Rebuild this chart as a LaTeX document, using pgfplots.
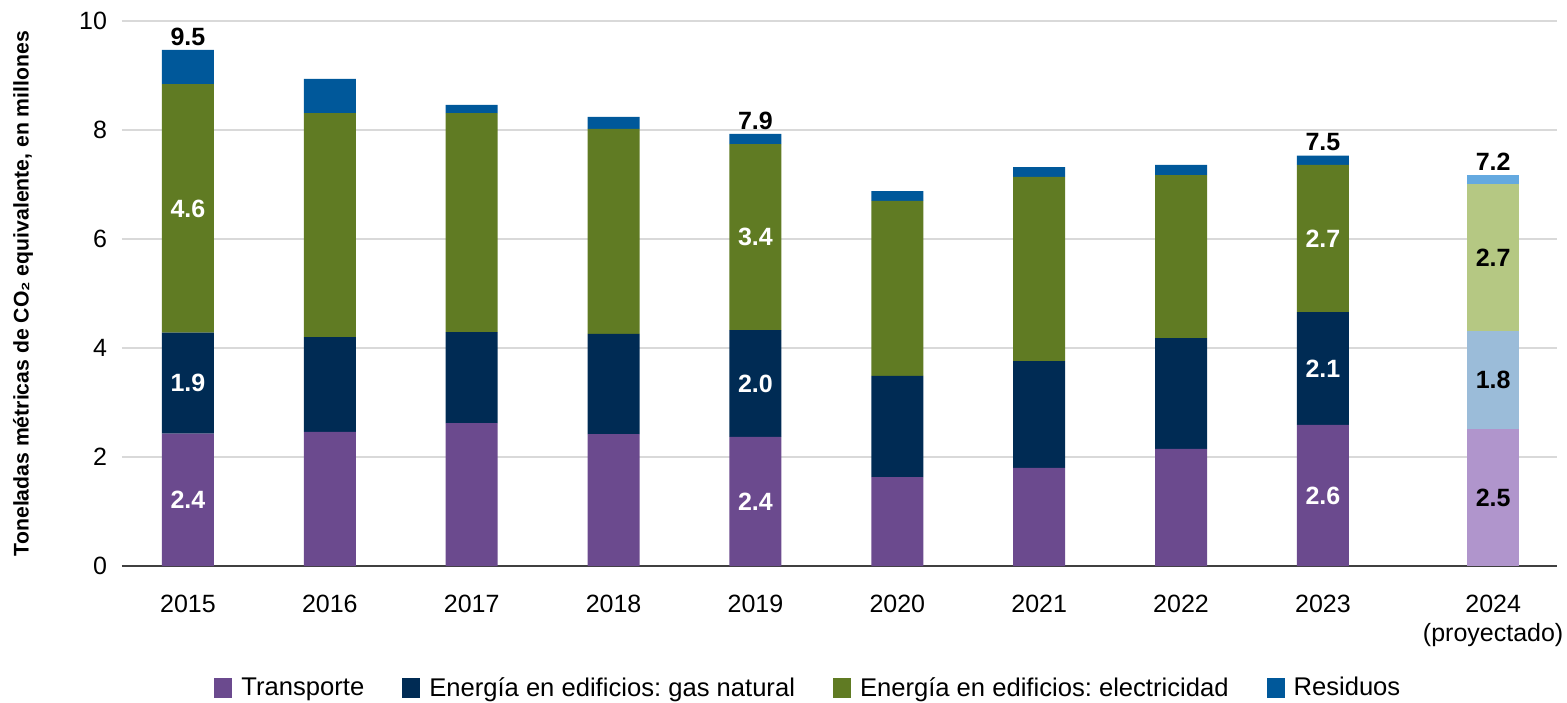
\documentclass[border=0pt]{standalone}
\usepackage{pgfplots}
\pgfplotsset{compat=1.18}
\usepackage{pgfplotstable}
\usepackage{fontspec}
\setmainfont{Liberation Sans}
\frenchspacing

\definecolor{cT}{HTML}{6B4A8E}
\definecolor{cG}{HTML}{002B54}
\definecolor{cE}{HTML}{607B23}
\definecolor{cR}{HTML}{00589A}
\definecolor{cTP}{HTML}{B095CC}
\definecolor{cGP}{HTML}{9BBCD9}
\definecolor{cEP}{HTML}{B5C883}
\definecolor{cRP}{HTML}{64A9E0}

\tikzset{
  seg/.style={font=\bfseries\fontsize{12.5}{13}\selectfont, text=white},
  tot/.style={font=\bfseries\fontsize{12.5}{13}\selectfont, anchor=south, inner sep=2pt},
}

% x = position (2015 at 0 ... 2023 at 8, 2024 at 9.2)
\pgfplotstableread{
pos T    G    E    R    TP   GP   EP   RP
0   2.43 1.85 4.56 0.63 0    0    0    0
1   2.46 1.74 4.11 0.63 0    0    0    0
2   2.62 1.67 4.02 0.15 0    0    0    0
3   2.42 1.84 3.76 0.22 0    0    0    0
4   2.37 1.96 3.41 0.19 0    0    0    0
5   1.63 1.86 3.21 0.18 0    0    0    0
6   1.80 1.96 3.38 0.18 0    0    0    0
7   2.15 2.03 2.99 0.19 0    0    0    0
8   2.59 2.07 2.70 0.17 0    0    0    0
9.2 0    0    0    0    2.51 1.80 2.70 0.17
}\emisdata

\begin{document}
\begin{tikzpicture}
\begin{axis}[name=ax,
  scale only axis, width=717.5pt, height=272.5pt,
  ybar stacked, bar width=26pt,
  xmin=-0.465, xmax=9.65, ymin=0, ymax=10,
  xtick={0,1,2,3,4,5,6,7,8,9.2},
  xticklabels={2015,2016,2017,2018,2019,2020,2021,2022,2023,{2024\\(proyectado)}},
  xticklabel style={align=center, font=\fontsize{12.5}{14.5}\selectfont, yshift=-11pt},
  ytick={0,2,...,10},
  yticklabel style={font=\fontsize{12.5}{13}\selectfont, xshift=-4pt},
  /pgf/number format/assume math mode=true,
  axis x line*=bottom, axis y line*=left,
  x axis line style={draw=black!75, line width=0.8pt},
  y axis line style={draw=none},
  tick style={draw=none},
  ymajorgrids, major grid style={draw=black!15, line width=0.6pt},
  ylabel={Toneladas métricas de CO₂ equivalente, en millones},
  ylabel style={font=\bfseries\fontsize{10.6}{12}\selectfont, at={(axis description cs:-0.057,0.5)}, anchor=south},
  legend columns=4,
  legend style={at={(0.479,-0.224)}, anchor=center, draw=none, font=\fontsize{12.8}{14}\selectfont,
    /tikz/every odd column/.append style={column sep=2.5pt},
    /tikz/every even column/.append style={column sep=17pt}},
  legend image code/.code={\fill[#1] (0pt,-5pt) rectangle (9pt,5pt);},
  legend entries={Transporte, Energía en edificios: gas natural, Energía en edificios: electricidad, Residuos},
]
\addplot[draw=none, fill=cT] table[x=pos,y=T] {\emisdata};
\addplot[draw=none, fill=cG] table[x=pos,y=G] {\emisdata};
\addplot[draw=none, fill=cE] table[x=pos,y=E] {\emisdata};
\addplot[draw=none, fill=cR] table[x=pos,y=R] {\emisdata};
\addplot[draw=none, fill=cTP] table[x=pos,y=TP] {\emisdata};
\addplot[draw=none, fill=cGP] table[x=pos,y=GP] {\emisdata};
\addplot[draw=none, fill=cEP] table[x=pos,y=EP] {\emisdata};
\addplot[draw=none, fill=cRP] table[x=pos,y=RP] {\emisdata};

% label anchors (segment centres and bar tops)
\coordinate (a1) at (axis cs:0,1.215);
\coordinate (a2) at (axis cs:0,3.355);
\coordinate (a3) at (axis cs:0,6.56);
\coordinate (b1) at (axis cs:4,1.185);
\coordinate (b2) at (axis cs:4,3.35);
\coordinate (b3) at (axis cs:4,6.035);
\coordinate (c1) at (axis cs:8,1.295);
\coordinate (c2) at (axis cs:8,3.625);
\coordinate (c3) at (axis cs:8,6.01);
\coordinate (d1) at (axis cs:9.2,1.255);
\coordinate (d2) at (axis cs:9.2,3.41);
\coordinate (d3) at (axis cs:9.2,5.66);
\coordinate (ta) at (axis cs:0,9.47);
\coordinate (tb) at (axis cs:4,7.93);
\coordinate (tc) at (axis cs:8,7.53);
\coordinate (td) at (axis cs:9.2,7.18);
\end{axis}
\node[seg] at (a1) {2.4};
\node[seg] at (a2) {1.9};
\node[seg] at (a3) {4.6};
\node[seg] at (b1) {2.4};
\node[seg] at (b2) {2.0};
\node[seg] at (b3) {3.4};
\node[seg] at (c1) {2.6};
\node[seg] at (c2) {2.1};
\node[seg] at (c3) {2.7};
\node[seg, text=black] at (d1) {2.5};
\node[seg, text=black] at (d2) {1.8};
\node[seg, text=black] at (d3) {2.7};
\node[tot] at (ta) {9.5};
\node[tot] at (tb) {7.9};
\node[tot] at (tc) {7.5};
\node[tot] at (td) {7.2};
\pgfresetboundingbox
\path ([shift={(-61pt,-68pt)}]ax.south west) rectangle ([shift={(5pt,10.5pt)}]ax.north east);
\end{tikzpicture}
\end{document}
